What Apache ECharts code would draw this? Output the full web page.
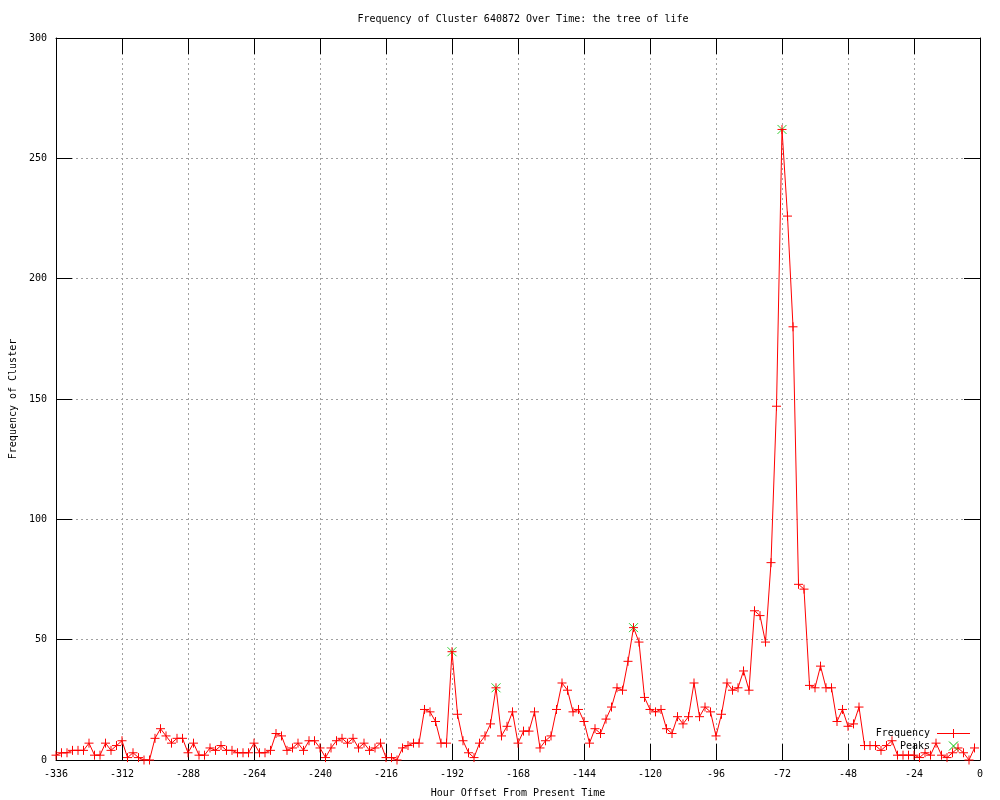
<!DOCTYPE html>
<html>
<head>
<meta charset="utf-8">
<script src="https://cdn.jsdelivr.net/npm/echarts@6/dist/echarts.min.js"></script>
<style>
  html, body { margin: 0; padding: 0; background: #ffffff; }
  #chart { width: 1000px; height: 800px; }
</style>
</head>
<body>
<div id="chart"></div>
<script>
// Hour offsets (x) of each sample
var hours = [
  -336,-334,-332,-330,-328,-326,-324,-322,-320,-318,
  -316,-314,-312,-310,-308,-306,-304,-302,-300,-298,
  -296,-294,-292,-290,-288,-286,-284,-282,-280,-278,
  -276,-274,-272,-270,-268,-266,-264,-262,-260,-258,
  -256,-254,-252,-250,-248,-246,-244,-242,-240,-238,
  -236,-234,-232,-230,-228,-226,-224,-222,-220,-218,
  -216,-214,-212,-210,-208,-206,-204,-202,-200,-198,
  -196,-194,-192,-190,-188,-186,-184,-182,-180,-178,
  -176,-174,-172,-170,-168,-166,-164,-162,-160,-158,
  -156,-154,-152,-150,-148,-146,-144,-142,-140,-138,
  -136,-134,-132,-130,-128,-126,-124,-122,-120,-118,
  -116,-114,-112,-110,-108,-106,-104,-102,-100,-98,
  -96,-94,-92,-90,-88,-86,-84,-82,-80,-78,
  -76,-74,-72,-70,-68,-66,-64,-62,-60,-58,
  -56,-54,-52,-50,-48,-46,-44,-42,-40,-38,
  -36,-34,-32,-30,-28,-26,-24,-22,-20,-18,
  -16,-14,-12,-10,-8,-6,-4,-2
];
// Frequency of cluster at each hour offset
var frequency = [
  2,3,3,4,4,4,7,2,2,7,
  4,6,8,1,3,1,0,0,9,13,
  10,7,9,9,3,7,2,2,5,4,
  6,4,4,3,3,3,7,3,3,4,
  11,10,4,5,7,4,8,8,5,1,
  5,8,9,7,9,5,7,4,5,7,
  1,1,0,5,6,7,7,21,20,16,
  7,7,45,19,8,3,1,7,10,15,
  30,10,14,20,7,12,12,20,5,8,
  10,21,32,29,20,21,16,7,13,11,
  17,22,30,29,41,55,49,26,21,20,
  21,13,11,18,15,18,32,18,22,20,
  10,19,32,29,30,37,29,62,60,49,
  82,147,262,226,180,73,71,31,30,39,
  30,30,16,21,14,15,22,6,6,6,
  4,6,8,2,2,2,2,1,3,2,
  7,2,1,3,5,3,0,5
];
// Detected peaks
var peakHours = [-192, -176, -126, -72];
var peakValues = [45, 30, 55, 262];

// Axis ticks
var xMin = -336, xMax = 0, xStep = 24;
var yMin = 0, yMax = 300, yStep = 50;

var titleText = 'Frequency of Cluster 640872 Over Time: the tree of life';
var xName = 'Hour Offset From Present Time';
var yName = 'Frequency of Cluster';
var legendNames = ['Frequency', 'Peaks'];

var FONT = 'DejaVu Sans Mono';
var RED = '#ff0000';
var GREEN = '#00c000';
var PLUS = 'path://M0,5 L10,5 M5,0 L5,10';
var CROSS = 'path://M0,0 L10,10 M10,0 L0,10';

var freqData = hours.map(function (h, i) { return [h, frequency[i]]; });
var peakData = peakHours.map(function (h, i) { return [h, peakValues[i]]; });

var chart = echarts.init(document.getElementById('chart'), null, { renderer: 'canvas' });

var tickCommon = { show: true, inside: true, length: 16, lineStyle: { color: '#000', width: 1 } };
var lineCommon = { show: true, onZero: false, lineStyle: { color: '#000', width: 1 } };
var gridLine = { show: true, lineStyle: { color: '#a0a0a0', width: 1, type: [2, 3] } };
var labelFont = { color: '#000', fontFamily: FONT, fontSize: 10 };

var option = {
  animation: false,
  backgroundColor: '#ffffff',
  title: {
    text: titleText,
    left: 518,
    top: 9,
    textAlign: 'center',
    textStyle: { color: '#000', fontFamily: FONT, fontSize: 10, fontWeight: 'normal' }
  },
  grid: { left: 56, right: 20, top: 38, bottom: 40, containLabel: false, outerBoundsMode: 'none' },
  xAxis: [
    {
      type: 'value', min: xMin, max: xMax, interval: xStep, position: 'bottom',
      axisLine: lineCommon, axisTick: tickCommon, splitLine: gridLine,
      axisLabel: Object.assign({ margin: 9 }, labelFont),
      name: xName, nameLocation: 'middle', nameGap: 28,
      nameTextStyle: labelFont
    },
    {
      type: 'value', min: xMin, max: xMax, interval: xStep, position: 'top',
      axisLine: lineCommon, axisTick: tickCommon, splitLine: { show: false },
      axisLabel: { show: false }
    }
  ],
  yAxis: [
    {
      type: 'value', min: yMin, max: yMax, interval: yStep, position: 'left',
      axisLine: lineCommon, axisTick: tickCommon, splitLine: gridLine,
      axisLabel: Object.assign({ margin: 9 }, labelFont),
      name: yName, nameLocation: 'middle', nameGap: 37, nameRotate: 90,
      nameTextStyle: labelFont
    },
    {
      type: 'value', min: yMin, max: yMax, interval: yStep, position: 'right',
      axisLine: lineCommon, axisTick: tickCommon, splitLine: { show: false },
      axisLabel: { show: false }
    }
  ],
  series: [
    {
      name: legendNames[1],
      type: 'scatter',
      data: peakData,
      symbol: CROSS,
      symbolSize: 9,
      itemStyle: { color: 'rgba(0,0,0,0)', borderColor: GREEN, borderWidth: 1 },
      emphasis: { disabled: true },
      z: 3
    },
    {
      name: legendNames[0],
      type: 'line',
      data: freqData,
      showSymbol: true,
      showAllSymbol: true,
      symbol: PLUS,
      symbolSize: 9,
      lineStyle: { color: RED, width: 1 },
      itemStyle: { color: 'rgba(0,0,0,0)', borderColor: RED, borderWidth: 1 },
      emphasis: { disabled: true },
      z: 4
    }
  ],
  graphic: [
    {
      type: 'text', right: 1000 - 930, top: 728, z: 100,
      style: { text: legendNames[0], font: '10px "DejaVu Sans Mono"', fill: '#000', textAlign: 'right' }
    },
    { type: 'polyline', z: 100, shape: { points: [[937, 733.5], [970, 733.5]] }, style: { stroke: RED, lineWidth: 1, fill: null } },
    { type: 'polyline', z: 100, shape: { points: [[953.5, 729], [953.5, 738]] }, style: { stroke: RED, lineWidth: 1, fill: null } },
    {
      type: 'text', right: 1000 - 930, top: 741, z: 100,
      style: { text: legendNames[1], font: '10px "DejaVu Sans Mono"', fill: '#000', textAlign: 'right' }
    },
    { type: 'polyline', z: 100, shape: { points: [[949, 741.5], [958, 750.5]] }, style: { stroke: GREEN, lineWidth: 1, fill: null } },
    { type: 'polyline', z: 100, shape: { points: [[958, 741.5], [949, 750.5]] }, style: { stroke: GREEN, lineWidth: 1, fill: null } }
  ]
};

chart.setOption(option);
</script>
</body>
</html>
